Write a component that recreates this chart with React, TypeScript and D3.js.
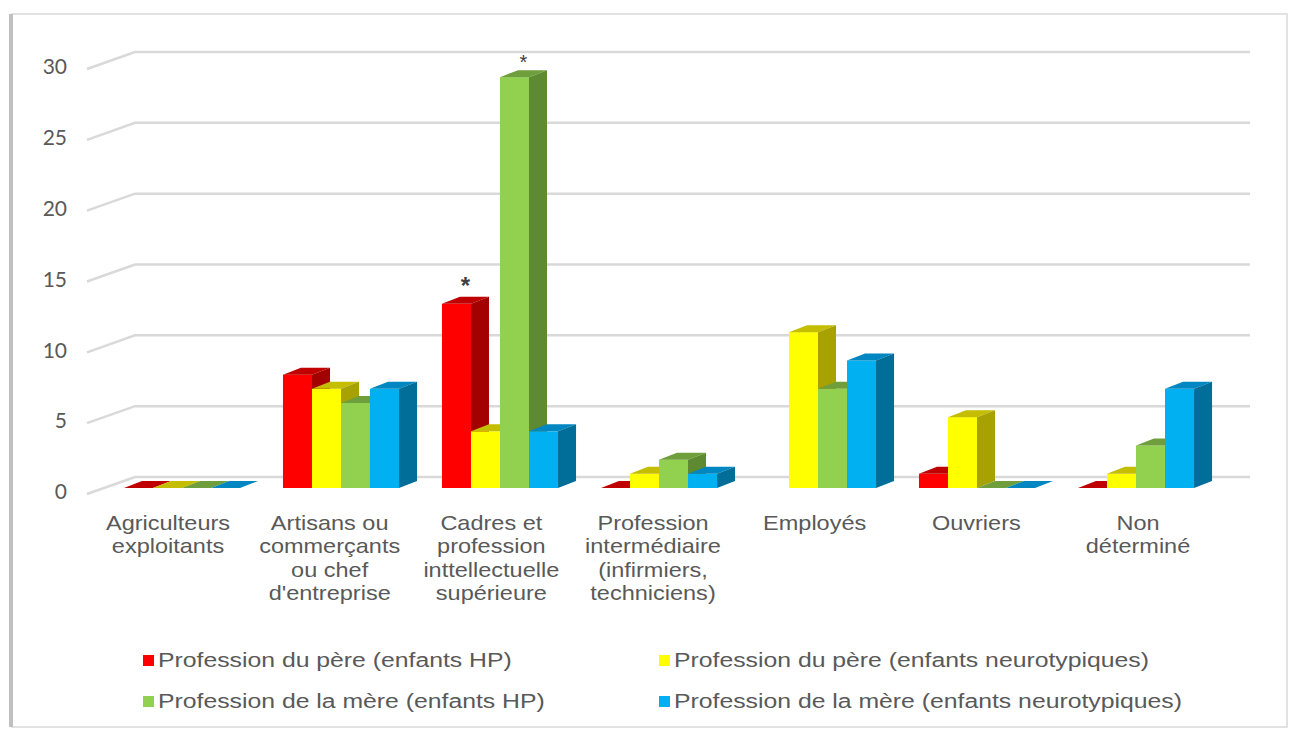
import React from "react";
import * as d3 from "d3";

const categories = [
  ["Agriculteurs", "exploitants"],
  ["Artisans ou", "commerçants", "ou chef", "d'entreprise"],
  ["Cadres et", "profession", "inttellectuelle", "supérieure"],
  ["Profession", "intermédiaire", "(infirmiers,", "techniciens)"],
  ["Employés"],
  ["Ouvriers"],
  ["Non", "déterminé"],
];

const seriesNames = [
  "Profession du père (enfants HP)",
  "Profession du père (enfants neurotypiques)",
  "Profession de la mère (enfants HP)",
  "Profession de la mère (enfants neurotypiques)",
];

// null = no bar at all (Employés, père HP)
const pereHP = [0, 8, 13, 0, null, 1, 0];
const pereNT = [0, 7, 4, 1, 11, 5, 1];
const mereHP = [0, 6, 29, 2, 7, 0, 3];
const mereNT = [0, 7, 4, 1, 9, 0, 7];

const yTicks = [0, 5, 10, 15, 20, 25, 30];

// significance stars: [category index, series index]
const stars = [
  [2, 0],
  [2, 2],
];

const W = 1289;
const H = 729;

// front, top, side
const faces = [
  ["#ff0000", "#c00000", "#a30000"],
  ["#ffff00", "#c4bd00", "#a8a200"],
  ["#92d050", "#6f9e3c", "#5e8a32"],
  ["#00b0f0", "#0086c0", "#006e98"],
];

const DX = 18; // bar depth offset
const DY = 7;
const WALL_DX = 48; // floor/wall depth
const GREY = "#595959";

export default function App() {
  const series = [pereHP, pereNT, mereHP, mereNT];
  const catIds = categories.map((_, i) => String(i));

  const x = d3
    .scaleBand<string>()
    .domain(catIds)
    .range([102.5, 1215.5])
    .paddingInner(0.27)
    .paddingOuter(0.135);
  const xs = d3
    .scaleBand<number>()
    .domain(d3.range(series.length))
    .range([0, x.bandwidth()]);
  const y = d3.scaleLinear().domain([0, 30]).range([488, 63]);
  const xLabel = d3.scalePoint<string>().domain(catIds).range([168, 1138]);

  const bars: any[] = [];
  catIds.forEach((c, ci) => {
    series.forEach((s, si) => {
      const v = s[ci];
      if (v === null || v === undefined) return;
      const x0 = (x(c) as number) + (xs(si) as number);
      const w = xs.bandwidth();
      const yt = y(v);
      const yb = y(0);
      const [cf, ct, cs] = faces[si];
      bars.push(
        <g key={c + "-" + si}>
          {v > 0 && <rect x={x0} y={yt} width={w} height={yb - yt} fill={cf} />}
          <path
            d={`M${x0},${yt}L${x0 + w},${yt}L${x0 + w + DX},${yt - DY}L${x0 + DX},${yt - DY}Z`}
            fill={ct}
          />
          {v > 0 && (
            <path
              d={`M${x0 + w},${yt}L${x0 + w + DX},${yt - DY}L${x0 + w + DX},${yb - DY}L${x0 + w},${yb}Z`}
              fill={cs}
            />
          )}
        </g>
      );
    });
  });

  const legendPos = [
    [143, 661],
    [659, 661],
    [143, 702],
    [659, 702],
  ];

  return (
    <svg
      width={W}
      height={H}
      style={{ position: "absolute", left: 0, top: 0, background: "#fff" }}
      fontFamily="'Liberation Sans', Arial, sans-serif"
    >
      {/* frame */}
      <rect x={12} y={14} width={1275} height={713} fill="none" stroke="#d9d9d9" strokeWidth={1.5} />
      <line x1={11} y1={14} x2={11} y2={727} stroke="#c0c0c0" strokeWidth={4} />

      {/* gridlines */}
      {yTicks.map((t) => (
        <g key={t}>
          <polyline
            points={`87,${y(t) + 6} ${87 + WALL_DX},${y(t) - 11} 1250,${y(t) - 11}`}
            fill="none"
            stroke="#d9d9d9"
            strokeWidth={2.5}
          />
          <text
            x={67}
            y={y(t) + 6}
            textAnchor="end"
            dominantBaseline="middle"
            fontFamily="Lato, 'Open Sans', sans-serif"
            fontSize={21}
            fill={GREY}
          >
            {t}
          </text>
        </g>
      ))}

      {bars}

      {stars.map(([ci, si], i) => {
        const cx = (x(catIds[ci]) as number) + (xs(si) as number) + xs.bandwidth() / 2 + DX / 2;
        const v = series[si][ci] as number;
        const big = i === 0;
        return (
          <text
            key={i}
            x={cx}
            y={y(v) - DY - (big ? 3 : 1)}
            textAnchor="middle"
            fontSize={big ? 24 : 20}
            fontWeight={big ? "bold" : "normal"}
            fill="#404040"
          >
            *
          </text>
        );
      })}

      {/* category labels */}
      {categories.map((lines, ci) => (
        <text
          key={ci}
          transform={`translate(${xLabel(String(ci))},530) scale(1.12,1)`}
          textAnchor="middle"
          fontSize={21}
          fill={GREY}
        >
          {lines.map((l, li) => (
            <tspan key={li} x={0} y={li * 23.5}>
              {l}
            </tspan>
          ))}
        </text>
      ))}

      {/* legend */}
      {seriesNames.map((n, i) => (
        <g key={n} transform={`translate(${legendPos[i][0]},${legendPos[i][1]})`}>
          <rect x={0} y={-6} width={11} height={11} fill={faces[i][0]} />
          <text
            transform="translate(15,0) scale(1.18,1)"
            dominantBaseline="middle"
            fontSize={21}
            fill={GREY}
          >
            {n}
          </text>
        </g>
      ))}
    </svg>
  );
}
